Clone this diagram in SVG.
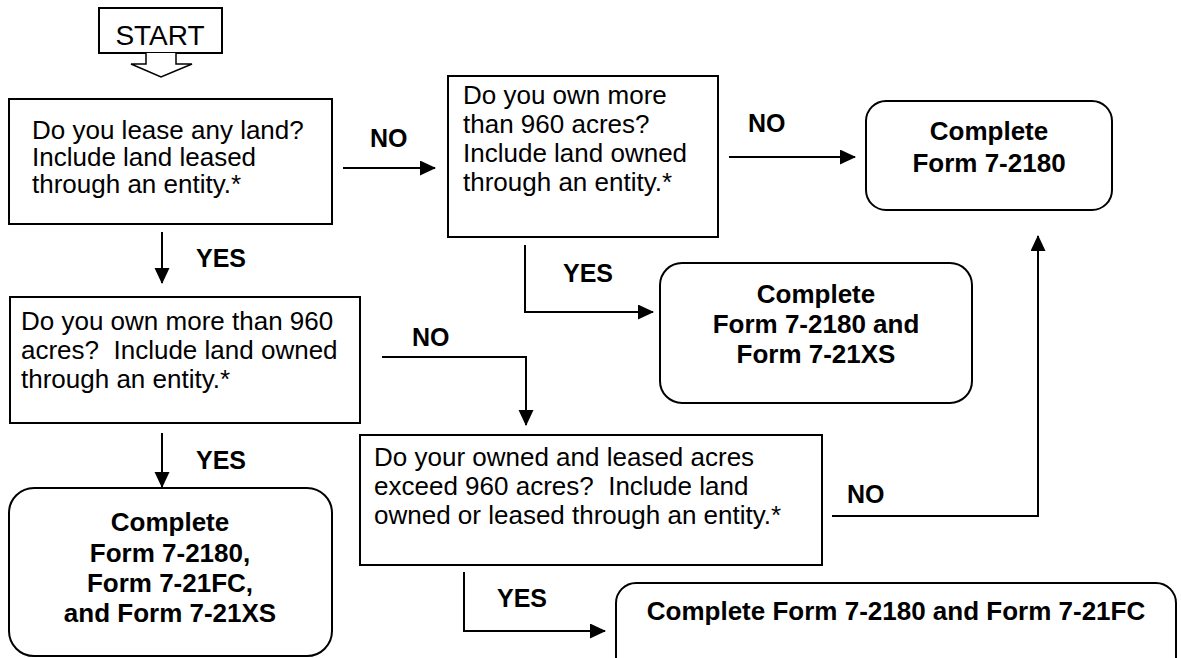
<svg xmlns="http://www.w3.org/2000/svg" width="1181" height="658" viewBox="0 0 1181 658">
<style>
  .box { fill: #ffffff; stroke: #000000; stroke-width: 2; }
  .q { font-family: "Liberation Sans", Arial, sans-serif; font-size: 26px; fill: #000000; white-space: pre; }
  .r { font-family: "Liberation Sans", Arial, sans-serif; font-size: 26px; font-weight: bold; fill: #000000; text-anchor: middle; }
  .lbl { font-family: "Liberation Sans", Arial, sans-serif; font-size: 25px; font-weight: bold; fill: #000000; }
  .c { fill: none; stroke: #000000; stroke-width: 2; }
</style>
<defs>
  <marker id="ah" markerUnits="userSpaceOnUse" markerWidth="16" markerHeight="16" refX="15" refY="7.5" orient="auto">
    <path d="M0,0 L16,7.5 L0,15 z" fill="#000000"/>
  </marker>
</defs>
<rect width="1181" height="658" fill="#ffffff"/>

<g id="start">
  <rect class="box" x="99" y="8" width="123" height="45" stroke-width="1.5"/>
  <text x="160" y="45" font-family="Liberation Sans, Arial, sans-serif" font-size="28" text-anchor="middle">START</text>
  <polyline points="146,53 146,64 131,64 161,77 192,64 176,64 176,53" fill="#ffffff" stroke="#000000" stroke-width="1.5"/>
</g>

<g id="q_lease">
  <rect class="box" x="9" y="99" width="323" height="125"/>
  <text class="q" x="32" y="139">Do you lease any land?</text>
  <text class="q" x="32" y="166">Include land leased</text>
  <text class="q" x="32" y="193">through an entity.*</text>
</g>

<g id="q_own_noLease">
  <rect class="box" x="448" y="76" width="270" height="161"/>
  <text class="q" x="463" y="104">Do you own more</text>
  <text class="q" x="463" y="133">than 960 acres?</text>
  <text class="q" x="463" y="162">Include land owned</text>
  <text class="q" x="463" y="191">through an entity.*</text>
</g>

<g id="r_2180">
  <rect class="box" x="866" y="101" width="246" height="109" rx="20" ry="20"/>
  <text class="r" x="989" y="140">Complete</text>
  <text class="r" x="989" y="172">Form 7-2180</text>
</g>

<g id="r_2180_xs">
  <rect class="box" x="660" y="263" width="312" height="140" rx="22" ry="22"/>
  <text class="r" x="816" y="303">Complete</text>
  <text class="r" x="816" y="333">Form 7-2180 and</text>
  <text class="r" x="816" y="363">Form 7-21XS</text>
</g>

<g id="q_own_lease">
  <rect class="box" x="10" y="297" width="350" height="126"/>
  <text class="q" x="21" y="330">Do you own more than 960</text>
  <text class="q" x="21" y="359" xml:space="preserve">acres?  Include land owned</text>
  <text class="q" x="21" y="388">through an entity.*</text>
</g>

<g id="r_all">
  <rect class="box" x="9" y="488" width="323" height="168" rx="25" ry="25"/>
  <text class="r" x="170" y="531">Complete</text>
  <text class="r" x="170" y="562">Form 7-2180,</text>
  <text class="r" x="170" y="592">Form 7-21FC,</text>
  <text class="r" x="170" y="622">and Form 7-21XS</text>
</g>

<g id="q_combined">
  <rect class="box" x="360" y="435" width="462" height="130"/>
  <text class="q" x="374" y="466">Do your owned and leased acres</text>
  <text class="q" x="374" y="495" xml:space="preserve">exceed 960 acres?  Include land</text>
  <text class="q" x="374" y="524">owned or leased through an entity.*</text>
</g>

<g id="r_2180_fc">
  <rect class="box" x="616" y="583" width="560" height="110" rx="20" ry="20"/>
  <text class="r" x="896" y="620">Complete Form 7-2180 and Form 7-21FC</text>
</g>

<g id="connectors">
  <line class="c" x1="343" y1="168" x2="435" y2="168" marker-end="url(#ah)"/>
  <text class="lbl" x="370" y="147">NO</text>

  <line class="c" x1="162" y1="232" x2="162" y2="283" marker-end="url(#ah)"/>
  <text class="lbl" x="196" y="267">YES</text>

  <line class="c" x1="729" y1="157" x2="855" y2="157" marker-end="url(#ah)"/>
  <text class="lbl" x="748" y="132">NO</text>

  <polyline class="c" points="525,245 525,312 653,312" marker-end="url(#ah)"/>
  <text class="lbl" x="563" y="282">YES</text>

  <polyline class="c" points="382,357 526,357 526,425" marker-end="url(#ah)"/>
  <text class="lbl" x="412" y="346">NO</text>

  <line class="c" x1="162" y1="433" x2="162" y2="487" marker-end="url(#ah)"/>
  <text class="lbl" x="196" y="469">YES</text>

  <polyline class="c" points="832,516 1038,516 1038,236" marker-end="url(#ah)"/>
  <text class="lbl" x="847" y="503">NO</text>

  <polyline class="c" points="464,572 464,631 605,631" marker-end="url(#ah)"/>
  <text class="lbl" x="497" y="607">YES</text>
</g>
</svg>
